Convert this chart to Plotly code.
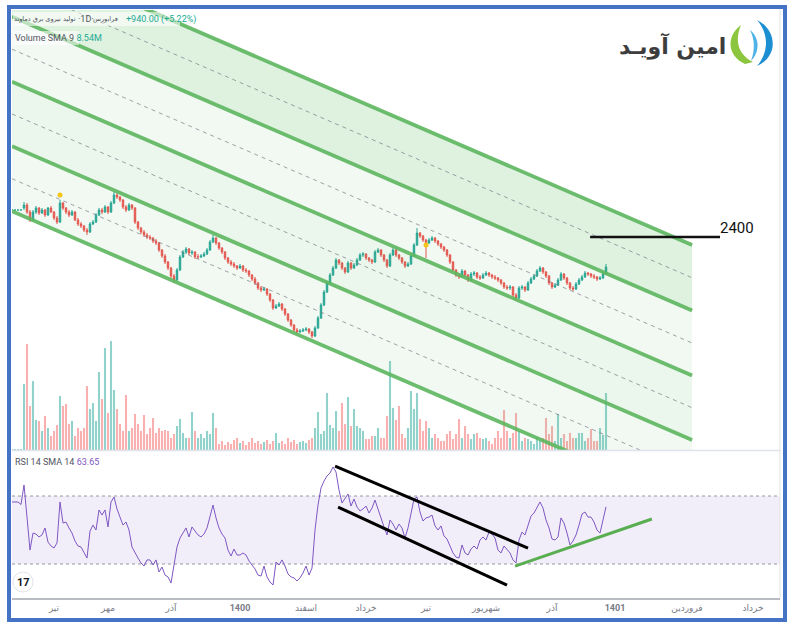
import plotly.graph_objects as go

W, H = 792, 628

# ---------------- data ----------------
bar_index = list(range(-4, 195))

open_ = [2670, 2670, 2670, 2670,
         2690, 2720, 2650, 2570, 2650, 2690, 2640, 2670, 2620, 2690,
         2650, 2590, 2550, 2740, 2690, 2650, 2620, 2650, 2570, 2530,
         2510, 2470, 2450, 2530, 2550, 2620, 2670, 2650, 2700, 2650,
         2740, 2820, 2800, 2770, 2700, 2670, 2720, 2690, 2550, 2490,
         2450, 2420, 2400, 2390, 2360, 2340, 2270, 2210, 2150, 2090,
         2010, 1970, 2070, 2200, 2250, 2280, 2240, 2250, 2200, 2200,
         2210, 2230, 2270, 2350, 2390, 2340, 2290, 2250, 2190, 2150,
         2130, 2110, 2090, 2110, 2070, 2060, 2020, 1980, 1940, 1890,
         1870, 1880, 1830, 1770, 1690, 1710, 1730, 1680, 1630, 1570,
         1520, 1470, 1450, 1460, 1470, 1480, 1450, 1410, 1490, 1590,
         1720, 1850, 1940, 2020, 2090, 2170, 2140, 2090, 2050, 2140,
         2090, 2120, 2170, 2220, 2230, 2190, 2170, 2150, 2250, 2270,
         2220, 2170, 2110, 2220, 2270, 2220, 2190, 2150, 2110, 2130,
         2210, 2320, 2440, 2410, 2370, 2340, 2370, 2390, 2360, 2330,
         2300, 2270, 2220, 2150, 2070, 2020, 2000, 2060, 2020, 1970,
         2030, 2040, 2000, 1990, 2020, 2040, 2020, 2000, 1990, 1970,
         1940, 1900, 1890, 1900, 1820, 1790, 1890, 1900, 1870, 1940,
         1980, 2010, 2060, 2090, 2050, 2010, 1940, 1900, 1920, 1970,
         2030, 1990, 1940, 1890, 1880, 1930, 1970, 2000, 2040, 2030,
         2010, 2000, 1980, 1990, 2030]

high = [2670, 2670, 2670, 2670,
        2750, 2740, 2670, 2670, 2710, 2700, 2690, 2680, 2700, 2710,
        2660, 2610, 2770, 2750, 2700, 2670, 2670, 2660, 2590, 2550,
        2520, 2490, 2550, 2570, 2640, 2690, 2690, 2720, 2710, 2760,
        2850, 2840, 2810, 2780, 2720, 2740, 2730, 2700, 2560, 2500,
        2470, 2440, 2420, 2400, 2380, 2350, 2280, 2230, 2160, 2100,
        2030, 2090, 2220, 2270, 2300, 2290, 2270, 2260, 2230, 2230,
        2250, 2290, 2370, 2420, 2400, 2350, 2300, 2260, 2200, 2170,
        2150, 2120, 2130, 2120, 2090, 2070, 2030, 2000, 1950, 1910,
        1900, 1890, 1840, 1780, 1730, 1750, 1740, 1690, 1640, 1580,
        1530, 1490, 1480, 1490, 1500, 1490, 1460, 1510, 1610, 1740,
        1870, 1960, 2040, 2110, 2190, 2180, 2150, 2100, 2160, 2150,
        2140, 2190, 2240, 2250, 2240, 2200, 2180, 2270, 2290, 2280,
        2230, 2180, 2240, 2290, 2280, 2230, 2200, 2160, 2150, 2230,
        2340, 2490, 2450, 2420, 2380, 2390, 2410, 2400, 2370, 2340,
        2310, 2280, 2230, 2160, 2080, 2040, 2080, 2070, 2030, 2050,
        2060, 2050, 2020, 2040, 2060, 2050, 2030, 2020, 2000, 1980,
        1950, 1920, 1920, 1910, 1840, 1910, 1920, 1910, 1960, 2000,
        2030, 2080, 2110, 2100, 2060, 2020, 1950, 1940, 1990, 2050,
        2040, 2000, 1950, 1910, 1950, 1990, 2020, 2060, 2050, 2040,
        2030, 2010, 2010, 2050, 2130]

low = [2670, 2670, 2670, 2670,
       2670, 2630, 2550, 2560, 2630, 2620, 2630, 2600, 2610, 2640,
       2570, 2530, 2540, 2670, 2630, 2600, 2610, 2560, 2510, 2490,
       2450, 2420, 2440, 2520, 2540, 2610, 2630, 2640, 2630, 2640,
       2730, 2780, 2750, 2680, 2650, 2660, 2670, 2530, 2470, 2430,
       2400, 2380, 2370, 2340, 2320, 2250, 2190, 2130, 2070, 1990,
       1940, 1960, 2060, 2190, 2230, 2220, 2220, 2180, 2180, 2190,
       2200, 2220, 2260, 2340, 2320, 2270, 2230, 2170, 2130, 2110,
       2090, 2070, 2080, 2050, 2040, 2000, 1960, 1920, 1870, 1850,
       1860, 1810, 1750, 1670, 1680, 1700, 1660, 1610, 1550, 1500,
       1450, 1430, 1440, 1450, 1460, 1430, 1390, 1400, 1480, 1580,
       1710, 1840, 1930, 2010, 2080, 2120, 2070, 2030, 2040, 2070,
       2080, 2110, 2160, 2200, 2170, 2150, 2130, 2140, 2240, 2200,
       2150, 2090, 2100, 2210, 2200, 2170, 2130, 2090, 2100, 2120,
       2200, 2310, 2390, 2350, 2190, 2330, 2360, 2340, 2310, 2280,
       2250, 2200, 2130, 2050, 2000, 1980, 1990, 2000, 1950, 1960,
       2010, 1980, 1970, 1980, 2010, 2000, 1980, 1970, 1950, 1920,
       1880, 1870, 1870, 1800, 1760, 1780, 1870, 1850, 1860, 1930,
       1970, 2000, 2050, 2030, 1990, 1920, 1880, 1890, 1910, 1960,
       1970, 1920, 1870, 1860, 1870, 1920, 1960, 1990, 2010, 1990,
       1980, 1960, 1970, 1980, 2020]

close = [2670, 2670, 2670, 2670,
         2720, 2650, 2570, 2650, 2690, 2640, 2670, 2620, 2690, 2650,
         2590, 2550, 2740, 2690, 2650, 2620, 2650, 2570, 2530, 2510,
         2470, 2450, 2530, 2550, 2620, 2670, 2650, 2700, 2650, 2740,
         2820, 2800, 2770, 2700, 2670, 2720, 2690, 2550, 2490, 2450,
         2420, 2400, 2390, 2360, 2340, 2270, 2210, 2150, 2090, 2010,
         1970, 2070, 2200, 2250, 2280, 2240, 2250, 2200, 2200, 2210,
         2230, 2270, 2350, 2390, 2340, 2290, 2250, 2190, 2150, 2130,
         2110, 2090, 2110, 2070, 2060, 2020, 1980, 1940, 1890, 1870,
         1880, 1830, 1770, 1690, 1710, 1730, 1680, 1630, 1570, 1520,
         1470, 1450, 1460, 1470, 1480, 1450, 1410, 1490, 1590, 1720,
         1850, 1940, 2020, 2090, 2170, 2140, 2090, 2050, 2140, 2090,
         2120, 2170, 2220, 2230, 2190, 2170, 2150, 2250, 2270, 2220,
         2170, 2110, 2220, 2270, 2220, 2190, 2150, 2110, 2130, 2210,
         2320, 2440, 2410, 2370, 2340, 2370, 2390, 2360, 2330, 2300,
         2270, 2220, 2150, 2070, 2020, 2000, 2060, 2020, 1970, 2030,
         2040, 2000, 1990, 2020, 2040, 2020, 2000, 1990, 1970, 1940,
         1900, 1890, 1900, 1820, 1790, 1890, 1900, 1870, 1940, 1980,
         2010, 2060, 2090, 2050, 2010, 1940, 1900, 1920, 1970, 2030,
         1990, 1940, 1890, 1880, 1930, 1970, 2000, 2040, 2030, 2010,
         2000, 1980, 1990, 2030, 2100]

volume_m = [0.5, 0.5, 0.5, 0.5,
            33, 53, 22, 34.5, 15, 14.5, 9.5, 17, 11, 7,
            9.5, 12.5, 27, 22, 23, 13, 14.5, 7, 11, 9.5,
            11, 32, 20.5, 23.5, 14.5, 39, 25.5, 51, 18.5, 54.5,
            30, 20.5, 13, 9.5, 27.5, 9.5, 11, 18, 13, 9.5,
            17.5, 8, 11, 16, 8.5, 11, 9.5, 10, 9.5, 6,
            8, 12, 15.5, 8.5, 6, 6, 19, 9.5, 6, 8,
            6, 9.5, 8, 18.5, 11, 3, 4.5, 2.5, 4, 3,
            5, 6, 3.5, 4.5, 2.5, 4, 6, 3.5, 4.5, 3,
            4, 5, 3, 4.5, 8.5, 3.5, 4.5, 3, 6, 4,
            5, 3, 4, 4.5, 3.5, 5, 6, 11, 19, 8,
            9.5, 28.5, 12.5, 11, 19.5, 9.5, 23.5, 13, 26.5, 12,
            20.5, 12, 11, 9.5, 5.5, 5.5, 7, 7, 11, 6,
            6, 17, 44.5, 21, 15, 22, 8, 6, 11, 29.5,
            20.5, 28.5, 15.5, 9.5, 14.5, 11, 6, 8, 6, 4.5,
            4.5, 8, 9.5, 5.5, 8, 15.5, 6, 12, 8, 5.5,
            8, 8.5, 6, 5.5, 6, 4.5, 3, 6, 9.5, 6,
            20, 9.5, 6, 8.5, 18.5, 9.5, 4.5, 6, 5.5, 4.5,
            3, 6, 4.5, 6, 16, 8, 12, 4.5, 18, 6,
            8, 4.5, 8.5, 6, 6, 8.5, 8.5, 4.5, 6, 10.5,
            4.5, 4.5, 11, 7.5, 28.5]

rsi = [66.5, 66.5, 66.5, 65.0,
       76.5, 57.6, 38.2, 48.2, 47.6, 45.9, 47.1, 51.2, 42.9, 40.6,
       39.4, 42.4, 66.5, 54.1, 54.7, 51.2, 48.2, 43.5, 40.6, 40.0,
       37.1, 33.5, 49.4, 52.9, 50.0, 61.8, 58.8, 61.8, 51.8, 66.5,
       69.4, 62.4, 57.6, 52.9, 54.7, 50.0, 40.0, 36.5, 33.5, 30.6,
       28.8, 32.4, 32.4, 29.4, 32.4, 25.3, 28.2, 23.5, 22.4, 18.8,
       29.4, 40.0, 45.3, 48.2, 51.2, 45.9, 51.8, 49.4, 47.1, 45.9,
       47.6, 51.2, 58.2, 64.7, 57.1, 51.2, 47.6, 45.3, 38.2, 34.7,
       38.8, 35.3, 35.3, 36.5, 35.3, 31.8, 29.4, 27.1, 23.5, 22.9,
       28.8, 22.4, 19.4, 17.6, 31.2, 29.4, 32.4, 28.8, 24.1, 22.4,
       21.8, 20.0, 21.8, 24.7, 28.8, 23.5, 27.6, 50.0, 64.7, 74.7,
       78.8, 81.8, 83.5, 87.1, 84.1, 73.5, 65.9, 68.8, 71.2, 64.1,
       68.2, 63.5, 61.2, 62.4, 64.1, 60.0, 62.9, 67.6, 61.8, 57.1,
       51.8, 47.1, 55.9, 53.5, 50.0, 53.5, 51.2, 45.3, 51.2, 59.4,
       68.2, 69.4, 60.6, 55.3, 57.1, 57.6, 58.8, 52.4, 50.0, 52.4,
       46.5, 44.7, 40.0, 36.5, 34.1, 33.5, 41.2, 36.5, 35.3, 38.8,
       40.6, 38.8, 44.1, 45.9, 44.1, 48.8, 47.6, 45.3, 38.2, 36.5,
       40.6, 38.8, 36.5, 32.4, 30.6, 44.1, 48.8, 47.1, 52.4, 58.2,
       60.0, 62.9, 66.5, 62.9, 55.9, 51.2, 44.7, 44.1, 45.9, 57.1,
       54.1, 48.2, 41.2, 43.5, 47.1, 52.9, 59.4, 60.6, 57.6, 57.6,
       54.7, 50.0, 48.2, 55.9, 63.65]

# time-axis tick labels (bar positions and texts)
tick_pos = [10, 28, 49, 72, 94, 114, 134, 154, 176, 197, 221, 243]
tick_text = ['تیر', 'مهر', 'آذر', '1400', 'اسفند', 'خرداد', 'تیر', 'شهریور',
             'آذر', '1401', 'فروردین', 'خرداد']

# event markers
event_x = [12, 134]
event_y = [2820, 2320]

# channel (bar index / price of each level at both ends)
channel_x = [-4, 222.7]
level_start = [5258, 4603, 3953, 3308, 2658]
level_end = [2320, 1665, 1015, 370, -280]
band_alpha = [0.18, 0.07, 0.11, 0.07]

# target line
target_x = [188.7, 232]
target_price = 2400

# RSI drawings
rsi_upper_x, rsi_upper_y = [103.7, 168], [87.6, 39.4]
rsi_lower_x, rsi_lower_y = [104.7, 161], [63.5, 17.6]
rsi_green_x, rsi_green_y = [163.7, 209.3], [28.8, 56.5]

# header texts
symbol_name = 'تولید نیروی برق دماوند'
interval = '·1D·'
exchange = 'فرابورس'
change_text = '+940.00 (+5.22%)'
volume_label, volume_value = 'Volume SMA 9', '8.54M'
rsi_label, rsi_value = 'RSI 14 SMA 14', '63.65'
brand = 'امین آویـد'

# ---------------- helpers ----------------
def X(px):
    return px / W


def Y(py):
    return 1 - py / H


def P(px, py):
    return f"{px / W:.5f},{1 - py / H:.5f}"


NARROW = "Liberation Sans Narrow, Arial Narrow, Roboto, DejaVu Sans"
UP, DOWN = '#26a69a', '#ef5350'

fig = go.Figure()

# volume (base subplot)
vol_colors = ['rgba(38,166,154,0.5)' if c >= o else 'rgba(239,83,80,0.45)'
              for o, c in zip(open_, close)]
fig.add_trace(go.Bar(x=bar_index, y=volume_m, marker=dict(color=vol_colors, line=dict(width=0)),
                     width=0.7, xaxis='x', yaxis='y', hoverinfo='skip'))

# channel bands
for k in range(4):
    fig.add_trace(go.Scatter(
        x=[channel_x[0], channel_x[1], channel_x[1], channel_x[0], channel_x[0]],
        y=[level_start[k], level_end[k], level_end[k + 1], level_start[k + 1], level_start[k]],
        fill='toself', fillcolor=f'rgba(76,175,80,{band_alpha[k]})',
        line=dict(width=0), mode='lines', xaxis='x', yaxis='y2', hoverinfo='skip'))

# dashed mid levels
for k in range(4):
    fig.add_trace(go.Scatter(
        x=channel_x,
        y=[(level_start[k] + level_start[k + 1]) / 2, (level_end[k] + level_end[k + 1]) / 2],
        mode='lines', line=dict(color='rgba(120,123,134,0.7)', width=1, dash='4px,4px'),
        xaxis='x', yaxis='y2', hoverinfo='skip'))

# solid levels
for k in range(5):
    fig.add_trace(go.Scatter(
        x=channel_x, y=[level_start[k], level_end[k]], mode='lines',
        line=dict(color='rgba(92,182,94,0.9)', width=3.8),
        xaxis='x', yaxis='y2', hoverinfo='skip'))

# candles
fig.add_trace(go.Candlestick(
    x=bar_index, open=open_, high=high, low=low, close=close,
    increasing=dict(line=dict(color=UP, width=1), fillcolor=UP),
    decreasing=dict(line=dict(color=DOWN, width=1), fillcolor=DOWN),
    whiskerwidth=0, xaxis='x', yaxis='y2', hoverinfo='skip'))

fig.add_trace(go.Scatter(x=event_x, y=event_y, mode='markers',
                         marker=dict(color='#f5c518', size=5),
                         xaxis='x', yaxis='y2', hoverinfo='skip'))

fig.add_trace(go.Scatter(x=target_x, y=[target_price, target_price], mode='lines',
                         line=dict(color='#111111', width=2.5),
                         xaxis='x', yaxis='y2', hoverinfo='skip'))

# RSI pane
fig.add_trace(go.Scatter(x=bar_index, y=rsi, mode='lines',
                         line=dict(color='#7e57c2', width=1),
                         xaxis='x2', yaxis='y3', hoverinfo='skip'))
for xs, ys, col in [(rsi_upper_x, rsi_upper_y, '#000000'),
                    (rsi_lower_x, rsi_lower_y, '#000000'),
                    (rsi_green_x, rsi_green_y, '#5aae52')]:
    fig.add_trace(go.Scatter(x=xs, y=ys, mode='lines', line=dict(color=col, width=3),
                             xaxis='x2', yaxis='y3', hoverinfo='skip'))

xdom = [X(12), X(780)]
main_dom = [Y(450), Y(10)]
rsi_dom = [Y(598), Y(452)]
hidden = dict(showgrid=False, zeroline=False, showticklabels=False, showline=False, ticks='')

fig.update_layout(
    width=W, height=H, autosize=False,
    margin=dict(l=0, r=0, t=0, b=0),
    paper_bgcolor='white', plot_bgcolor='rgba(0,0,0,0)',
    showlegend=False,
    font=dict(family=NARROW, size=9, color='#50535e'),
    xaxis=dict(domain=xdom, range=[-4, 252], anchor='y', rangeslider=dict(visible=False), **hidden),
    yaxis=dict(domain=main_dom, range=[0, 220], anchor='x', **hidden),
    yaxis2=dict(overlaying='y', range=[270, 4670], anchor='x', side='right', **hidden),
    xaxis2=dict(domain=xdom, range=[-4, 252], anchor='y3', matches='x',
                tickmode='array', tickvals=tick_pos,
                ticktext=[f"<b>{t}</b>" if t.isdigit() else t for t in tick_text],
                tickfont=dict(family=NARROW, size=9, color='#787b86'),
                showgrid=False, zeroline=False, showline=True, linecolor='#b8bbc2', linewidth=1.5,
                ticks=''),
    yaxis3=dict(domain=rsi_dom, range=[10, 95.9], anchor='x2', **hidden),
)

shapes = [
    dict(type='rect', xref='x2 domain', yref='y3', x0=0, x1=1, y0=30, y1=70,
         fillcolor='rgba(126,87,194,0.10)', line=dict(width=0), layer='below'),
    dict(type='line', xref='x2 domain', yref='y3', x0=0, x1=1, y0=70, y1=70,
         line=dict(color='#9598a1', width=1, dash='3px,3px'), layer='below'),
    dict(type='line', xref='x2 domain', yref='y3', x0=0, x1=1, y0=30, y1=30,
         line=dict(color='#9598a1', width=1, dash='3px,3px'), layer='below'),
    dict(type='line', xref='paper', yref='paper', x0=X(12), x1=X(780), y0=Y(450.5), y1=Y(450.5),
         line=dict(color='#e0e3eb', width=1.5)),
    dict(type='line', xref='paper', yref='paper', x0=X(780), x1=X(780), y0=Y(598), y1=Y(8),
         line=dict(color='#e0e3eb', width=1)),
    # header backdrop
    dict(type='rect', xref='paper', yref='paper', x0=X(13), x1=X(180), y0=Y(26), y1=Y(12),
         fillcolor='rgba(255,255,255,0.55)', line=dict(width=0)),
    dict(type='rect', xref='paper', yref='paper', x0=X(13), x1=X(79), y0=Y(45), y1=Y(31),
         fillcolor='rgba(255,255,255,0.55)', line=dict(width=0)),
    # TradingView badge
    dict(type='circle', xref='paper', yref='paper', x0=X(13), x1=X(33), y0=Y(592), y1=Y(572),
         fillcolor='white', line=dict(color='#e0e3eb', width=1)),
    # logo icon
    dict(type='path', xref='paper', yref='paper',
         path=f"M {P(745, 64)} C {P(727, 56)} {P(726, 36)} {P(741, 25)} C {P(735, 39)} {P(737, 54)} {P(753, 62)} Z",
         fillcolor='#8cc63f', line=dict(width=0)),
    dict(type='path', xref='paper', yref='paper',
         path=f"M {P(757, 20)} C {P(777, 30)} {P(779, 56)} {P(757, 66)} C {P(769, 52)} {P(769, 34)} {P(757, 20)} Z",
         fillcolor='#1b8fd2', line=dict(width=0)),
    dict(type='path', xref='paper', yref='paper',
         path=f"M {P(750, 30)} C {P(760, 38)} {P(760, 52)} {P(751, 61)} C {P(755, 50)} {P(755, 40)} {P(750, 30)} Z",
         fillcolor='#4fb3e8', line=dict(width=0)),
    # blue frame
    dict(type='rect', xref='paper', yref='paper', x0=X(9), x1=X(785), y0=Y(620), y1=Y(7),
         line=dict(color='#4472c4', width=4), fillcolor='rgba(0,0,0,0)'),
]
fig.update_layout(shapes=shapes)

PERSIAN = 'DejaVu Sans'
ann = [
    dict(xref='paper', yref='paper', x=X(78), y=Y(19), xanchor='right', yanchor='middle',
         text=symbol_name, showarrow=False, font=dict(family=PERSIAN, size=6.5, color='#50535e')),
    dict(xref='paper', yref='paper', x=X(85.5), y=Y(19), xanchor='center', yanchor='middle',
         text=interval, showarrow=False, font=dict(family=NARROW, size=9, color='#50535e')),
    dict(xref='paper', yref='paper', x=X(120), y=Y(19), xanchor='right', yanchor='middle',
         text=exchange, showarrow=False, font=dict(family=PERSIAN, size=6.5, color='#50535e')),
    dict(xref='paper', yref='paper', x=X(124), y=Y(19), xanchor='left', yanchor='middle',
         text=change_text, showarrow=False, font=dict(family=NARROW, size=9, color='#22ab94')),
    dict(xref='paper', yref='paper', x=X(13), y=Y(38), xanchor='left', yanchor='middle',
         text=f"{volume_label} <span style='color:#22ab94'>{volume_value}</span>", showarrow=False,
         font=dict(family=NARROW, size=9, color='#50535e')),
    dict(xref='paper', yref='paper', x=X(13), y=Y(462), xanchor='left', yanchor='middle',
         text=f"{rsi_label} <span style='color:#7e57c2'>{rsi_value}</span>", showarrow=False,
         font=dict(family=NARROW, size=9, color='#50535e')),
    dict(xref='x', yref='y2', x=237.7, y=2490, xanchor='center', yanchor='middle',
         text=str(target_price), showarrow=False,
         font=dict(family=NARROW, size=15, color='#111111')),
    dict(xref='paper', yref='paper', x=X(728), y=Y(46), xanchor='right', yanchor='middle',
         text=f'<b>{brand}</b>', showarrow=False,
         font=dict(family='DejaVu Sans', size=22, color='#3d3d3d')),
    dict(xref='paper', yref='paper', x=X(23), y=Y(582), xanchor='center', yanchor='middle',
         text='<b>17</b>', showarrow=False,
         font=dict(family='Roboto, DejaVu Sans', size=11, color='#131722')),
]
fig.update_layout(annotations=ann)

fig.write_html("out.html", config={'displayModeBar': False},
               post_script="document.body.style.margin='0';document.body.style.overflow='hidden';")
